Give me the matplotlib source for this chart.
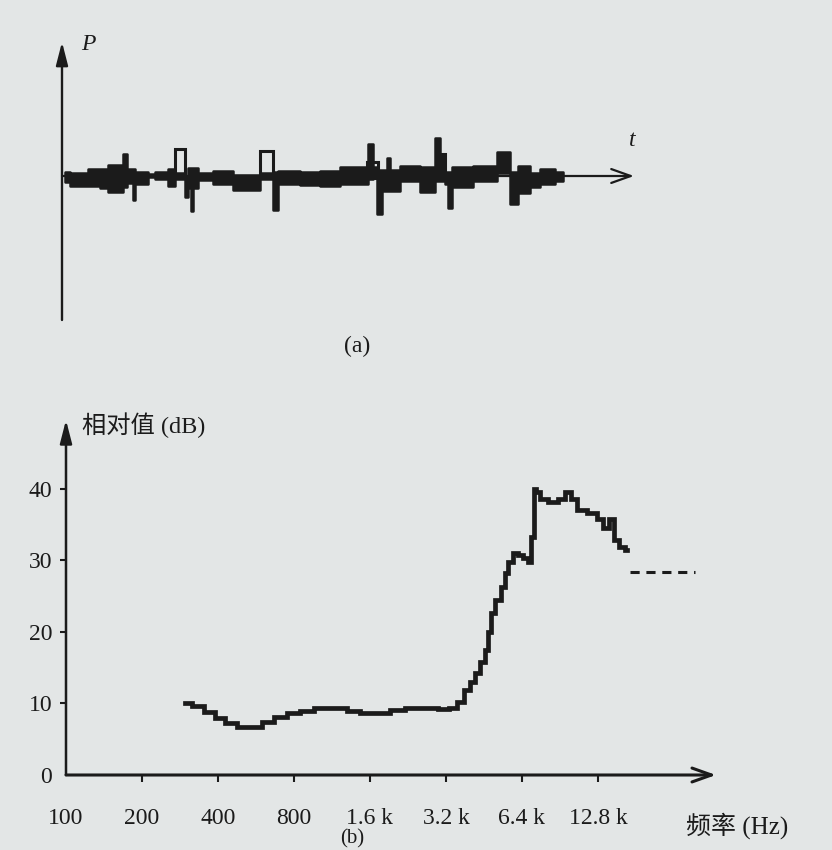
import matplotlib.pyplot as plt
from matplotlib.patches import Rectangle

PAPER = "#e3e6e6"
INK = "#1b1b1b"
W, H = 832, 850

# (a) waveform: x in px from the P axis, amplitude in px above the t axis
wave_x = [3, 8, 26, 38, 46, 61, 65, 71, 73, 86, 93, 106, 113, 123, 126, 129,
          131, 136, 151, 171, 198, 211, 216, 238, 258, 278, 306, 311, 315, 320,
          325, 328, 338, 358, 373, 378, 383, 386, 390, 411, 435, 448, 456, 468,
          478, 493, 501]
wave_top = [4, 3, 7, 7, 11, 22, 7, 7, 4.5, 2, 4, 7, 3, 0, 8, 8,
            8, 3, 5, 1, 3, 4, 5, 4.5, 5, 9, 32, 9, 6, 6,
            18, 6, 10, 9, 38, 20, 4, 4, 9, 10, 24, 4, 10, 3,
            7, 4, 4]
wave_bot = [-6, -10, -10, -12, -16, -11, -7, -24, -7.5, -1, -3, -10, -3, -21, -12, -35,
            -12, -4, -8, -14, -3, -34, -8, -9, -10, -7.5, -3, 0, -38, -15,
            -15, -15, -5, -16, -5, -5, -8, -32, -11, -5, 3, -28, -17, -11,
            -8, -5, -5]
loop_x0 = [113, 198, 305, 376]
loop_x1 = [123, 211, 316, 383]
loop_lo = [0, 0, -2, 0]
loop_hi = [27, 25, 14, 22]

# (b) relative level vs frequency
freq_hz = [296, 333, 372, 407, 446, 502, 571, 626, 704, 793, 901, 1014, 1217, 1370, 1557,
           1801, 2047, 2368, 2765, 3171, 3411, 3634, 3876, 4056, 4246, 4444, 4650, 4779,
           4911, 5141, 5381, 5581, 5736, 6004, 6285, 6577, 6883, 7013, 7206, 7400, 7751,
           8490, 9300, 9733, 10190, 10860, 12230, 13040, 13650, 14540, 14950, 15930, 16680]
level_db = [10.0, 9.7, 8.8, 8.0, 7.3, 6.7, 6.7, 7.4, 8.1, 8.7, 9.0, 9.4, 9.4, 8.9, 8.7,
            8.7, 9.1, 9.4, 9.3, 9.2, 9.4, 10.2, 11.9, 13.0, 14.3, 15.8, 17.5, 20.0,
            22.7, 24.5, 26.3, 28.2, 29.7, 31.0, 30.8, 30.3, 29.7, 33.3, 39.9, 39.5, 38.5,
            38.2, 38.5, 39.6, 38.5, 37.0, 36.6, 35.7, 34.5, 35.7, 32.9, 31.9, 31.5]
dash_hz = [17100, 31000]
dash_db = [28.4, 28.4]

x_ticks = [100, 200, 400, 800, 1600, 3200, 6400, 12800]
x_tick_labels = ["100", "200", "400", "800", "1.6 k", "3.2 k", "6.4 k", "12.8 k"]
y_ticks = [0, 10, 20, 30, 40]

SERIF = ["Liberation Serif", "Noto Sans CJK SC", "DejaVu Sans"]


def box(left, top, right, bottom):
    return [left / W, 1 - bottom / H, (right - left) / W, (bottom - top) / H]


def fig_xy(x, y):
    return x / W, 1 - y / H


fig = plt.figure(figsize=(W / 100, H / 100), dpi=100, facecolor=PAPER)

# ---- panel (a)
ax_a = fig.add_axes(box(62, 40, 662, 320))
ax_a.set_xlim(0, 600)
ax_a.set_ylim(-144, 136)
ax_a.axis("off")
ax_a.fill_between(wave_x, wave_bot, wave_top, step="post", facecolor=INK,
                  edgecolor=INK, lw=1.8)
for x0, x1, lo, hi in zip(loop_x0, loop_x1, loop_lo, loop_hi):
    ax_a.add_patch(Rectangle((x0, lo), x1 - x0, hi - lo, fill=False, ec=INK, lw=2.2))
ax_a.annotate("", xy=(0, 134), xytext=(0, -144), annotation_clip=False,
              arrowprops=dict(arrowstyle="-|>,head_length=0.7,head_width=0.18", lw=1.7,
                              color=INK, shrinkA=0, shrinkB=0, mutation_scale=20))
ax_a.annotate("", xy=(572, 0), xytext=(0, 0), annotation_clip=False,
              arrowprops=dict(arrowstyle="->,head_length=0.7,head_width=0.25", lw=1.6,
                              color=INK, shrinkA=0, shrinkB=0, mutation_scale=20))
fig.text(*fig_xy(88, 45), "P", family=SERIF, style="italic", fontsize=17,
         color=INK, ha="center", va="center")
fig.text(*fig_xy(632, 140), "t", family=SERIF, style="italic", fontsize=17,
         color=INK, ha="center", va="center")
fig.text(*fig_xy(357, 346), "(a)", family=SERIF, fontsize=17, color=INK,
         ha="center", va="center")

# ---- panel (b)
ax_b = fig.add_axes(box(66, 420, 716, 775))
ax_b.set_facecolor("none")
ax_b.set_xscale("log", base=2)
ax_b.set_xlim(100, 37550)
ax_b.set_ylim(0, 49.6)
for side in ["top", "right", "left", "bottom"]:
    ax_b.spines[side].set_visible(False)

ax_b.step(freq_hz, level_db, where="mid", color=INK, lw=3.4, solid_joinstyle="miter")
ax_b.plot(dash_hz, dash_db, color=INK, lw=2.2, ls=(0, (3, 2.2)))

ax_b.set_xticks(x_ticks)
ax_b.set_xticklabels(x_tick_labels)
ax_b.xaxis.set_minor_locator(plt.NullLocator())
ax_b.set_yticks(y_ticks)
ax_b.tick_params(axis="x", direction="out", length=5, width=1.5, pad=19,
                 labelsize=17, colors=INK)
ax_b.tick_params(axis="y", direction="out", length=4, width=1.5, pad=6,
                 labelsize=17, colors=INK)
for lab in ax_b.get_xticklabels() + ax_b.get_yticklabels():
    lab.set_family(SERIF)
ax_b.xaxis.get_major_ticks()[0].tick1line.set_visible(False)
ax_b.yaxis.get_major_ticks()[0].tick1line.set_visible(False)

ax_b.annotate("", xy=(0, 1), xytext=(0, 0), xycoords="axes fraction", annotation_clip=False,
              arrowprops=dict(arrowstyle="-|>,head_length=0.7,head_width=0.18", lw=1.8,
                              color=INK, shrinkA=0, shrinkB=0, mutation_scale=20))
ax_b.annotate("", xy=(1, 0), xytext=(0, 0), xycoords="axes fraction", annotation_clip=False,
              arrowprops=dict(arrowstyle="->,head_length=0.7,head_width=0.25", lw=2.2,
                              color=INK, shrinkA=0, shrinkB=0, mutation_scale=20))

fig.text(*fig_xy(82, 425), "相对值 (dB)", family=SERIF, fontsize=17.5, color=INK,
         ha="left", va="center")
fig.text(*fig_xy(686, 826), "频率 (Hz)", family=SERIF, fontsize=18, color=INK,
         ha="left", va="center")
fig.text(*fig_xy(352, 829), "(b)", family=SERIF, fontsize=15, color=INK,
         ha="center", va="top")

fig.savefig("out.png", dpi=100, facecolor=PAPER)
